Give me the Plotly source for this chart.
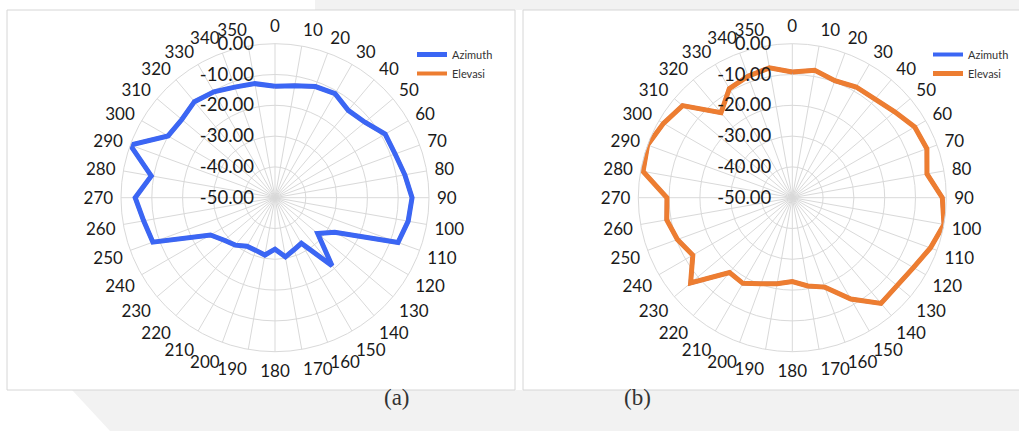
import plotly.graph_objects as go

W, H = 1019, 431

angles = [str(a) for a in range(0, 360, 10)]

azimuth = [-13.8, -13.1, -11.6, -11.0, -13.0, -11.9, -8.7, -8.5, -7.2, -5.5, -6.1, -7.5,
           -27.6, -31.9, -21.2, -32.9, -32.0, -30.5, -33.3, -31.1, -31.8, -31.8, -29.9, -28.5,
           -25.8, -7.8, -6.7, -4.6, -9.2, 0.0, -9.9, -10.5, -9.3, -10.3, -11.8, -12.4]

elevasi = [-9.2, -8.0, -9.6, -8.5, -8.2, -6.6, -4.1, -3.5, -5.6, -1.3, 0.0, -2.3,
           -4.6, -5.6, -5.2, -12.0, -19.1, -20.9, -22.8, -21.6, -20.3, -17.9, -18.3, -6.9,
           -12.7, -10.3, -8.6, -9.3, -0.8, 0.0, -1.7, -3.5, -14.0, -9.1, -8.0, -7.2]

radial_ticks = [-50, -40, -30, -20, -10, 0]
radial_labels = [f"{v:.2f}" for v in radial_ticks]  # plain hyphen, as in the original
captions = ["(a)", "(b)"]

BLUE = "#3b66f4"
ORANGE = "#ed7d31"
GRID = "#d9d9d9"
FONT = "Lato"


def closed(v):
    return list(v) + [v[0]]


theta_c = closed(angles)

fig = go.Figure()

# panel (a): Azimuth on top, Elevasi hidden beneath
fig.add_trace(go.Scatterpolar(r=closed(azimuth), theta=theta_c, mode="lines", name="Elevasi",
                              line=dict(color=ORANGE, width=4), subplot="polar", legend="legend",
                              legendrank=2))
fig.add_trace(go.Scatterpolar(r=closed(azimuth), theta=theta_c, mode="lines", name="Azimuth",
                              line=dict(color=BLUE, width=5), subplot="polar", legend="legend",
                              legendrank=1))
# panel (b): Elevasi on top, Azimuth beneath
fig.add_trace(go.Scatterpolar(r=closed(elevasi), theta=theta_c, mode="lines", name="Azimuth",
                              line=dict(color=BLUE, width=4), subplot="polar2", legend="legend2",
                              legendrank=1))
fig.add_trace(go.Scatterpolar(r=closed(elevasi), theta=theta_c, mode="lines", name="Elevasi",
                              line=dict(color=ORANGE, width=5), subplot="polar2", legend="legend2",
                              legendrank=2))


def px_x(x):
    return x / W


def px_y(y):
    return (H - y) / H


R = 154
cy = 197.7


def polar_cfg(cx):
    return dict(
        domain=dict(x=[px_x(cx - R), px_x(cx + R)], y=[px_y(cy + R), px_y(cy - R)]),
        bgcolor="rgba(0,0,0,0)",
        gridshape="circular",
        radialaxis=dict(range=[-50, 0], tickvals=radial_ticks, ticktext=radial_labels, angle=90,
                        tickangle=90, side="counterclockwise", showline=False,
                        ticks="outside", ticklen=14, tickcolor="rgba(0,0,0,0)",
                        gridcolor=GRID, gridwidth=1,
                        tickfont=dict(family=FONT, size=18.5, color="#1a1a1a")),
        angularaxis=dict(type="category", categoryarray=angles, direction="clockwise", rotation=90,
                         showline=True, linecolor=GRID, linewidth=1, gridcolor=GRID, gridwidth=1,
                         ticks="outside", ticklen=4, tickcolor="rgba(0,0,0,0)",
                         tickfont=dict(family=FONT, size=17, color="#1a1a1a")),
    )


legend_common = dict(font=dict(family=FONT, size=11, color="#333333"), bgcolor="rgba(0,0,0,0)",
                     itemwidth=30, tracegroupgap=0, xanchor="left", yanchor="top", traceorder="normal")

GRAY = "#f2f2f2"
shapes = [
    # faint background watermark
    dict(type="rect", xref="paper", yref="paper", x0=px_x(315), x1=1, y0=px_y(10), y1=1,
         fillcolor=GRAY, line=dict(width=0), layer="below"),
    dict(type="path", xref="paper", yref="paper",
         path=f"M {px_x(72)},{px_y(390)} L 1,{px_y(390)} L 1,0 L {px_x(110)},0 Z",
         fillcolor=GRAY, line=dict(width=0), layer="below"),
    # chart panels
    dict(type="rect", xref="paper", yref="paper", x0=px_x(7), x1=px_x(515), y0=px_y(390), y1=px_y(10),
         fillcolor="white", line=dict(color="#d6d6d6", width=1), layer="below"),
    dict(type="rect", xref="paper", yref="paper", x0=px_x(523), x1=px_x(1030), y0=px_y(390), y1=px_y(10),
         fillcolor="white", line=dict(color="#d6d6d6", width=1), layer="below"),
]

annotations = [
    dict(text=captions[0], x=px_x(397), y=px_y(412), xref="paper", yref="paper", showarrow=False,
         font=dict(family="Liberation Serif", size=23, color="#333333")),
    dict(text=captions[1], x=px_x(637), y=px_y(412), xref="paper", yref="paper", showarrow=False,
         font=dict(family="Liberation Serif", size=23, color="#333333")),
]

fig.update_layout(
    width=W, height=H,
    margin=dict(l=0, r=0, t=0, b=0),
    paper_bgcolor="white",
    plot_bgcolor="white",
    showlegend=True,
    polar=polar_cfg(275),
    polar2=polar_cfg(792.3),
    legend=dict(x=px_x(412), y=px_y(40), **legend_common),
    legend2=dict(x=px_x(928), y=px_y(40), **legend_common),
    shapes=shapes,
    annotations=annotations,
)

fig.write_html("out.html", config={"displayModeBar": False},
               post_script="document.body.style.margin='0';")
